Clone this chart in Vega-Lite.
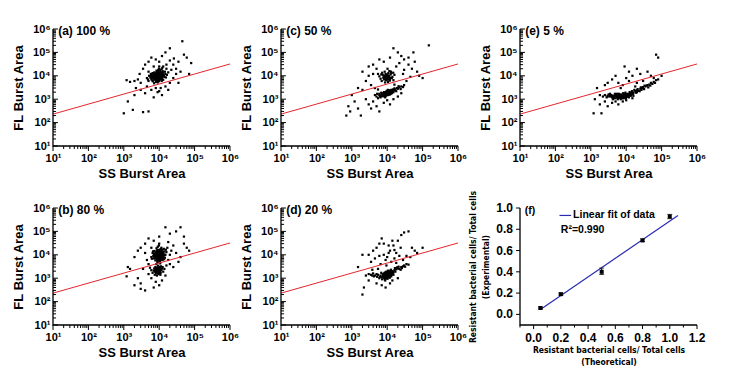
{
"$schema":"https://vega.github.io/schema/vega-lite/v6.json",
"background":"white",
"padding":{"left":11,"top":22,"right":5,"bottom":5},
"datasets":{
"sdom":[{"x":1000000,"y":10,"k":1},{"x":10,"y":10,"k":2},{"x":10,"y":1000000,"k":3}],
"fdom":[{"x":1.2,"y":-0.1,"k":1},{"x":-0.1,"y":-0.1,"k":2},{"x":-0.1,"y":1.0,"k":3}],
"lmaj":[{"v":10},{"v":100},{"v":1000},{"v":10000},{"v":100000},{"v":1000000}],
"lmin":[{"v":20},{"v":30},{"v":40},{"v":50},{"v":60},{"v":70},{"v":80},{"v":90},{"v":200},{"v":300},{"v":400},{"v":500},{"v":600},{"v":700},{"v":800},{"v":900},{"v":2000},{"v":3000},{"v":4000},{"v":5000},{"v":6000},{"v":7000},{"v":8000},{"v":9000},{"v":20000},{"v":30000},{"v":40000},{"v":50000},{"v":60000},{"v":70000},{"v":80000},{"v":90000},{"v":200000},{"v":300000},{"v":400000},{"v":500000},{"v":600000},{"v":700000},{"v":800000},{"v":900000}],
"fxmaj":[{"v":0},{"v":0.2},{"v":0.4},{"v":0.6},{"v":0.8},{"v":1.0},{"v":1.2}],
"fxmin":[{"v":-0.1},{"v":0.1},{"v":0.3},{"v":0.5},{"v":0.7},{"v":0.9},{"v":1.1}],
"fymaj":[{"v":0},{"v":0.2},{"v":0.4},{"v":0.6},{"v":0.8},{"v":1.0}],
"a":[{"x":9000,"y":9000},{"x":7500,"y":8000},{"x":11000,"y":10000},{"x":8500,"y":12000},{"x":6000,"y":7000},{"x":13000,"y":14000},{"x":10000,"y":6500},{"x":7000,"y":11000},{"x":9500,"y":15000},{"x":12000,"y":8000},{"x":5500,"y":9500},{"x":8000,"y":5500},{"x":15000,"y":12000},{"x":6500,"y":13000},{"x":10500,"y":18000},{"x":9200,"y":7200},{"x":7800,"y":9800},{"x":11500,"y":11500},{"x":8200,"y":6200},{"x":14000,"y":9000},{"x":5000,"y":6000},{"x":9800,"y":20000},{"x":6800,"y":8600},{"x":12500,"y":16000},{"x":7200,"y":4800},{"x":10200,"y":12500},{"x":8800,"y":10500},{"x":16000,"y":20000},{"x":4500,"y":8000},{"x":11800,"y":6000},{"x":9300,"y":8300},{"x":6200,"y":10500},{"x":13500,"y":11000},{"x":8600,"y":14500},{"x":7400,"y":6800},{"x":10800,"y":9300},{"x":5800,"y":12000},{"x":12200,"y":22000},{"x":9100,"y":5200},{"x":15500,"y":8500},{"x":6600,"y":5800},{"x":8400,"y":16500},{"x":11200,"y":13500},{"x":7600,"y":10000},{"x":10000,"y":25000},{"x":9600,"y":11200},{"x":5200,"y":10000},{"x":13000,"y":6800},{"x":8000,"y":8000},{"x":7000,"y":9000},{"x":12000,"y":12000},{"x":9000,"y":13000},{"x":6000,"y":11000},{"x":11000,"y":7500},{"x":8500,"y":9500},{"x":14500,"y":15000},{"x":7300,"y":14000},{"x":10300,"y":7800},{"x":9700,"y":9700},{"x":4800,"y":7000},{"x":16500,"y":11000},{"x":6300,"y":9000},{"x":11700,"y":19000},{"x":8900,"y":6800},{"x":7700,"y":12500},{"x":10600,"y":10600},{"x":12800,"y":9600},{"x":5700,"y":8200},{"x":9400,"y":17500},{"x":8100,"y":11500},{"x":18000,"y":14000},{"x":6900,"y":7600},{"x":10900,"y":14800},{"x":8300,"y":8900},{"x":9900,"y":5900},{"x":7100,"y":10300},{"x":12400,"y":10200},{"x":9000,"y":11000},{"x":6400,"y":6400},{"x":11300,"y":8600},
{"x":8700,"y":8700},{"x":9300,"y":9600},{"x":10000,"y":8500},{"x":8000,"y":9200},{"x":9600,"y":7800},{"x":10800,"y":10200},{"x":7600,"y":7400},{"x":8400,"y":10400},{"x":11200,"y":9000},{"x":9000,"y":11500},{"x":7200,"y":8400},{"x":9800,"y":12800},{"x":12000,"y":10500},{"x":8800,"y":6600},{"x":10400,"y":7000},{"x":7900,"y":11800},{"x":11600,"y":12200},{"x":6800,"y":9800},{"x":9500,"y":10800},{"x":8200,"y":7700},{"x":10600,"y":13800},{"x":13000,"y":10000},{"x":7400,"y":12600},{"x":9100,"y":6000},{"x":11800,"y":7200},{"x":6500,"y":8200},{"x":10200,"y":11000},{"x":8600,"y":13200},{"x":9400,"y":8000},{"x":12500,"y":13500},
{"x":3000,"y":5000},{"x":2500,"y":7000},{"x":2000,"y":6000},{"x":1500,"y":5500},{"x":1200,"y":6500},{"x":3500,"y":20000},{"x":4000,"y":30000},{"x":5000,"y":40000},{"x":6000,"y":60000},{"x":8000,"y":50000},{"x":12000,"y":70000},{"x":15000,"y":100000},{"x":20000,"y":45000},{"x":25000,"y":30000},{"x":30000,"y":20000},{"x":40000,"y":15000},{"x":50000,"y":80000},{"x":60000,"y":60000},{"x":45000,"y":300000},{"x":20000,"y":150000},{"x":10000,"y":40000},{"x":7000,"y":25000},{"x":3000,"y":2500},{"x":4000,"y":1800},{"x":6000,"y":2500},{"x":8000,"y":3000},{"x":10000,"y":2200},{"x":15000,"y":3500},{"x":20000,"y":5000},{"x":25000,"y":8000},{"x":30000,"y":12000},{"x":35000,"y":5000},{"x":18000,"y":2500},{"x":5000,"y":15000},{"x":2800,"y":12000},{"x":2200,"y":3000},{"x":1000,"y":250},{"x":1800,"y":350},{"x":3500,"y":280},{"x":5000,"y":300},{"x":7000,"y":1200},{"x":12000,"y":1500},{"x":9000,"y":2000},{"x":1300,"y":800},{"x":2000,"y":1500},{"x":70000,"y":12000},{"x":80000,"y":35000},{"x":16000,"y":30000},{"x":22000,"y":18000},{"x":4500,"y":3500},{"x":26000,"y":55000},{"x":35000,"y":40000},{"x":13000,"y":25000},{"x":11000,"y":3000}],
"c":[{"x":5000,"y":1300},{"x":6000,"y":1500},{"x":7000,"y":1400},{"x":8000,"y":1700},{"x":9000,"y":1800},{"x":10000,"y":1600},{"x":11000,"y":2000},{"x":12000,"y":1900},{"x":13000,"y":2200},{"x":15000,"y":2300},{"x":17000,"y":2600},{"x":20000,"y":2800},{"x":25000,"y":3500},{"x":30000,"y":4000},{"x":6500,"y":1200},{"x":7500,"y":1800},{"x":8500,"y":1300},{"x":9500,"y":2100},{"x":10500,"y":1500},{"x":11500,"y":2400},{"x":12500,"y":1700},{"x":14000,"y":2000},{"x":16000,"y":2900},{"x":18000,"y":2200},{"x":22000,"y":3200},{"x":4500,"y":1500},{"x":5500,"y":1100},{"x":7200,"y":1600},{"x":8200,"y":2000},{"x":9200,"y":1500},{"x":10200,"y":1900},{"x":11200,"y":1700},{"x":12200,"y":2300},{"x":13500,"y":1800},{"x":8800,"y":1200},{"x":9800,"y":2300},{"x":6800,"y":1900},{"x":7800,"y":1350},{"x":10800,"y":2100},{"x":14500,"y":2600},{"x":19000,"y":3000},{"x":24000,"y":2700},{"x":5200,"y":1700},{"x":6200,"y":1300},{"x":9000,"y":1400},{"x":10000,"y":2000},{"x":11000,"y":1800},{"x":12000,"y":1600},{"x":8000,"y":1500},{"x":7000,"y":1700},{"x":13000,"y":2500},{"x":15000,"y":2000},{"x":9500,"y":1700},{"x":10500,"y":2500},{"x":8500,"y":1900},{"x":11500,"y":2100},{"x":6000,"y":1700},{"x":16500,"y":2400},{"x":28000,"y":3300},{"x":21000,"y":3600},
{"x":9000,"y":1700},{"x":10000,"y":1800},{"x":11000,"y":1900},{"x":8000,"y":1600},{"x":9500,"y":1600},{"x":10500,"y":1800},{"x":12000,"y":2100},{"x":8500,"y":1500},{"x":7500,"y":1500},{"x":9200,"y":2000},{"x":10800,"y":1700},{"x":11800,"y":2200},{"x":13000,"y":2000},{"x":8800,"y":1400},{"x":9800,"y":1500},{"x":7000,"y":1350},{"x":12500,"y":1900},{"x":14000,"y":2300},{"x":10300,"y":2200},{"x":11300,"y":1600},{"x":6500,"y":1400},{"x":15000,"y":2500},{"x":9600,"y":1900},{"x":8300,"y":1800},{"x":10600,"y":1550},
{"x":10000,"y":8000},{"x":8000,"y":9000},{"x":12000,"y":7000},{"x":9000,"y":12000},{"x":7000,"y":6000},{"x":11000,"y":10000},{"x":13000,"y":13000},{"x":6000,"y":9500},{"x":9500,"y":6500},{"x":14000,"y":9000},{"x":8500,"y":15000},{"x":10500,"y":5500},{"x":7500,"y":11000},{"x":12500,"y":11500},{"x":9200,"y":8500},{"x":11500,"y":16000},{"x":6500,"y":7500},{"x":15000,"y":6500},{"x":8200,"y":7000},{"x":10800,"y":13000},{"x":5500,"y":12000},{"x":13500,"y":8000},{"x":9800,"y":10000},{"x":7200,"y":13500},{"x":16000,"y":11000},{"x":11800,"y":6200},{"x":8700,"y":5200},{"x":10200,"y":20000},{"x":12800,"y":15000},{"x":9000,"y":7500},{"x":7800,"y":8200},{"x":6800,"y":11500},{"x":14800,"y":13500},{"x":11000,"y":8800},{"x":9400,"y":9800},{"x":10000,"y":9000},{"x":9000,"y":8000},{"x":11000,"y":8500},{"x":9500,"y":10500},{"x":10500,"y":7000},{"x":8500,"y":10000},{"x":11500,"y":9500},{"x":10200,"y":11500},{"x":9200,"y":6800},{"x":12000,"y":8000},
{"x":700,"y":200},{"x":800,"y":500},{"x":1000,"y":1500},{"x":1200,"y":800},{"x":1500,"y":3000},{"x":2000,"y":2500},{"x":2500,"y":1000},{"x":3000,"y":600},{"x":1800,"y":200},{"x":3500,"y":400},{"x":4000,"y":800},{"x":5000,"y":500},{"x":6000,"y":300},{"x":8000,"y":700},{"x":10000,"y":900},{"x":12000,"y":600},{"x":15000,"y":1000},{"x":20000,"y":1300},{"x":25000,"y":1800},{"x":3000,"y":25000},{"x":4000,"y":30000},{"x":5000,"y":20000},{"x":6000,"y":50000},{"x":8000,"y":40000},{"x":12000,"y":60000},{"x":15000,"y":150000},{"x":20000,"y":100000},{"x":25000,"y":70000},{"x":30000,"y":50000},{"x":40000,"y":30000},{"x":50000,"y":20000},{"x":60000,"y":40000},{"x":70000,"y":15000},{"x":80000,"y":10000},{"x":100000,"y":8000},{"x":45000,"y":9000},{"x":35000,"y":6000},{"x":150000,"y":200000},{"x":2000,"y":15000},{"x":2500,"y":6000},{"x":3500,"y":4000},{"x":4500,"y":3000},{"x":4000,"y":12000},{"x":3000,"y":10000},{"x":18000,"y":25000},{"x":22000,"y":35000},{"x":30000,"y":18000},{"x":40000,"y":60000},{"x":55000,"y":100000},{"x":28000,"y":12000},{"x":1500,"y":400},{"x":900,"y":300},{"x":16000,"y":4200},{"x":5500,"y":2600}],
"e":[{"x":2500,"y":1500},{"x":3000,"y":1400},{"x":3500,"y":1300},{"x":4000,"y":1200},{"x":4500,"y":1400},{"x":5000,"y":1100},{"x":5500,"y":1300},{"x":6000,"y":1500},{"x":6500,"y":1200},{"x":7000,"y":1000},{"x":7500,"y":1400},{"x":8000,"y":1300},{"x":8500,"y":1600},{"x":9000,"y":1200},{"x":9500,"y":1500},{"x":10000,"y":1400},{"x":11000,"y":1700},{"x":12000,"y":1500},{"x":13000,"y":1800},{"x":14000,"y":1600},{"x":15000,"y":2000},{"x":16000,"y":1900},{"x":18000,"y":2200},{"x":20000,"y":2400},{"x":22000,"y":2300},{"x":25000,"y":2800},{"x":28000,"y":3000},{"x":30000,"y":3300},{"x":35000,"y":3500},{"x":40000,"y":4000},{"x":45000,"y":4200},{"x":50000,"y":5000},{"x":60000,"y":5500},{"x":70000,"y":6500},{"x":80000,"y":7000},{"x":2800,"y":1200},{"x":3200,"y":1600},{"x":3800,"y":1500},{"x":4200,"y":1000},{"x":4800,"y":1700},{"x":5200,"y":1500},{"x":5800,"y":1000},{"x":6200,"y":1700},{"x":6800,"y":1400},{"x":7200,"y":1600},{"x":7800,"y":1100},{"x":8200,"y":1800},{"x":8800,"y":1400},{"x":9200,"y":1700},{"x":9800,"y":1100},{"x":10500,"y":1600},{"x":11500,"y":1300},{"x":12500,"y":2000},{"x":13500,"y":1400},{"x":14500,"y":2200},{"x":15500,"y":1700},{"x":17000,"y":2500},{"x":19000,"y":1900},{"x":21000,"y":2700},{"x":24000,"y":2200},{"x":26000,"y":3200},{"x":32000,"y":2700},{"x":38000,"y":3800},{"x":42000,"y":3200},{"x":55000,"y":4500},{"x":65000,"y":5000},{"x":3500,"y":1700},{"x":4500,"y":1100},{"x":5500,"y":1700},{"x":6500,"y":1500},{"x":7500,"y":1200},{"x":8500,"y":1100},{"x":9500,"y":1900},{"x":10000,"y":1200},{"x":11000,"y":1400},{"x":12000,"y":1200},{"x":13000,"y":1600},{"x":16000,"y":1400},{"x":20000,"y":2000},{"x":27000,"y":2500},{"x":33000,"y":3800},{"x":48000,"y":3800},{"x":2200,"y":1300},{"x":1800,"y":1500},
{"x":6000,"y":1300},{"x":7000,"y":1200},{"x":8000,"y":1400},{"x":9000,"y":1300},{"x":10000,"y":1500},{"x":6500,"y":1400},{"x":7500,"y":1300},{"x":8500,"y":1250},{"x":9500,"y":1350},{"x":11000,"y":1550},{"x":12000,"y":1600},{"x":5000,"y":1300},{"x":5500,"y":1200},{"x":4500,"y":1250},{"x":4000,"y":1400},{"x":13000,"y":1700},{"x":14000,"y":1900},{"x":3500,"y":1500},{"x":3000,"y":1300},{"x":15000,"y":1800},{"x":7200,"y":1450},{"x":8200,"y":1150},{"x":10500,"y":1300},{"x":6200,"y":1150},{"x":9200,"y":1500},
{"x":1200,"y":250},{"x":1500,"y":3000},{"x":1300,"y":1000},{"x":1800,"y":600},{"x":2000,"y":250},{"x":2500,"y":800},{"x":3000,"y":500},{"x":4000,"y":700},{"x":5000,"y":800},{"x":6000,"y":600},{"x":8000,"y":800},{"x":10000,"y":900},{"x":15000,"y":1100},{"x":3000,"y":5000},{"x":4000,"y":7000},{"x":5000,"y":10000},{"x":6000,"y":5000},{"x":8000,"y":4000},{"x":10000,"y":8000},{"x":12000,"y":15000},{"x":15000,"y":10000},{"x":20000,"y":20000},{"x":25000,"y":12000},{"x":30000,"y":6000},{"x":20000,"y":5000},{"x":40000,"y":15000},{"x":50000,"y":10000},{"x":60000,"y":8000},{"x":80000,"y":60000},{"x":70000,"y":80000},{"x":9000,"y":25000},{"x":12000,"y":6000},{"x":100000,"y":10000},{"x":2500,"y":4000},{"x":7000,"y":3000},{"x":18000,"y":3500}],
"b":[{"x":10000,"y":9000},{"x":8500,"y":7500},{"x":12000,"y":11000},{"x":9000,"y":13000},{"x":11000,"y":7000},{"x":7500,"y":10000},{"x":13000,"y":8500},{"x":9500,"y":16000},{"x":10500,"y":5500},{"x":8000,"y":12500},{"x":14000,"y":14000},{"x":7000,"y":7000},{"x":11500,"y":20000},{"x":9200,"y":6500},{"x":12500,"y":6000},{"x":8800,"y":9800},{"x":10800,"y":11800},{"x":6500,"y":12000},{"x":15000,"y":10000},{"x":9800,"y":25000},{"x":7800,"y":5800},{"x":11200,"y":15000},{"x":8200,"y":8200},{"x":13500,"y":18000},{"x":10200,"y":7800},{"x":9000,"y":4800},{"x":12000,"y":9000},{"x":6800,"y":9000},{"x":16000,"y":13000},{"x":10600,"y":12600},{"x":8600,"y":6800},{"x":9400,"y":10400},{"x":11800,"y":8000},{"x":7300,"y":14500},{"x":12800,"y":13200},{"x":10000,"y":30000},{"x":8400,"y":19000},{"x":14500,"y":7500},{"x":9700,"y":8700},{"x":6200,"y":6800},{"x":11000,"y":10500},{"x":9300,"y":11500},{"x":10400,"y":9300},{"x":7700,"y":8600},{"x":12200,"y":16500},{"x":8900,"y":5200},{"x":13200,"y":11200},{"x":10900,"y":6300},{"x":9100,"y":22000},{"x":11600,"y":12500},{"x":8100,"y":10700},{"x":7100,"y":11300},{"x":15500,"y":16500},{"x":10100,"y":14200},{"x":8700,"y":15500},{"x":12700,"y":7300},{"x":9600,"y":7200},{"x":11300,"y":9600},{"x":6700,"y":14000},{"x":14200,"y":9800},{"x":17000,"y":20000},{"x":10700,"y":4300},{"x":8300,"y":4000},{"x":9900,"y":10000},{"x":12300,"y":12300},{"x":7400,"y":7800},{"x":13800,"y":6500},{"x":9500,"y":9000},{"x":11100,"y":17500},{"x":8000,"y":9500},
{"x":9700,"y":9400},{"x":10300,"y":8200},{"x":9000,"y":10500},{"x":11000,"y":9800},{"x":8500,"y":8800},{"x":10800,"y":12000},{"x":9300,"y":7400},{"x":11800,"y":10800},{"x":8000,"y":11200},{"x":12400,"y":8600},{"x":9600,"y":13000},{"x":10600,"y":6800},{"x":7600,"y":9600},{"x":11400,"y":14000},{"x":8800,"y":6200},{"x":10000,"y":11000},{"x":12800,"y":11500},{"x":9100,"y":15000},{"x":7800,"y":7200},{"x":10900,"y":8900},{"x":8400,"y":13800},{"x":11700,"y":7600},{"x":9900,"y":5800},{"x":10400,"y":16500},{"x":7200,"y":10400},{"x":13500,"y":9500},{"x":8900,"y":9000},{"x":10100,"y":10000},{"x":9400,"y":12000},{"x":11100,"y":6000},
{"x":9000,"y":2000},{"x":8000,"y":1800},{"x":10000,"y":2200},{"x":7000,"y":2100},{"x":11000,"y":1700},{"x":8500,"y":2500},{"x":9500,"y":1500},{"x":12000,"y":2600},{"x":6500,"y":1700},{"x":10500,"y":2800},{"x":7500,"y":1400},{"x":8800,"y":2300},{"x":9800,"y":1900},{"x":11500,"y":2200},{"x":7200,"y":2600},{"x":13000,"y":1900},{"x":8200,"y":1600},{"x":10200,"y":1600},{"x":9200,"y":2700},{"x":6000,"y":2200},{"x":12500,"y":3000},{"x":8600,"y":1300},{"x":11200,"y":3200},{"x":7800,"y":3000},{"x":9600,"y":2400},{"x":10800,"y":1400},{"x":14000,"y":2500},{"x":8300,"y":2100},{"x":9300,"y":3400},{"x":7600,"y":1900},{"x":9000,"y":2200},{"x":8400,"y":1900},{"x":9800,"y":2500},{"x":10600,"y":2000},{"x":7800,"y":2300},{"x":9400,"y":1700},{"x":11000,"y":2400},{"x":8700,"y":2800},{"x":10200,"y":3000},{"x":8000,"y":2600},
{"x":1200,"y":1200},{"x":1500,"y":2500},{"x":2000,"y":500},{"x":2500,"y":1000},{"x":3000,"y":600},{"x":1300,"y":3000},{"x":2000,"y":8000},{"x":2500,"y":15000},{"x":3000,"y":20000},{"x":4000,"y":30000},{"x":5000,"y":50000},{"x":6000,"y":8000},{"x":7000,"y":40000},{"x":10000,"y":60000},{"x":15000,"y":150000},{"x":20000,"y":80000},{"x":30000,"y":100000},{"x":40000,"y":150000},{"x":50000,"y":30000},{"x":60000,"y":20000},{"x":25000,"y":25000},{"x":30000,"y":12000},{"x":40000,"y":8000},{"x":35000,"y":5000},{"x":20000,"y":4000},{"x":18000,"y":6000},{"x":25000,"y":3000},{"x":5000,"y":4000},{"x":4000,"y":12000},{"x":3500,"y":2500},{"x":5000,"y":1500},{"x":6000,"y":1000},{"x":8000,"y":700},{"x":10000,"y":500},{"x":7000,"y":400},{"x":12000,"y":800},{"x":15000,"y":1300},{"x":4000,"y":300},{"x":3000,"y":350},{"x":20000,"y":10000},{"x":18000,"y":35000},{"x":50000,"y":60000},{"x":70000,"y":15000},{"x":4500,"y":6000},{"x":6000,"y":20000},{"x":16000,"y":3500},{"x":22000,"y":15000},{"x":5500,"y":2800}],
"d":[{"x":8000,"y":1200},{"x":9000,"y":1400},{"x":10000,"y":1000},{"x":11000,"y":1500},{"x":12000,"y":1300},{"x":13000,"y":1700},{"x":7000,"y":1100},{"x":7500,"y":1500},{"x":8500,"y":900},{"x":9500,"y":1700},{"x":10500,"y":1300},{"x":11500,"y":1900},{"x":12500,"y":1600},{"x":14000,"y":2000},{"x":15000,"y":1800},{"x":16000,"y":2200},{"x":18000,"y":2400},{"x":20000,"y":2600},{"x":22000,"y":2500},{"x":25000,"y":3000},{"x":28000,"y":3200},{"x":30000,"y":3500},{"x":35000,"y":4000},{"x":40000,"y":3800},{"x":6500,"y":1300},{"x":6000,"y":1000},{"x":5500,"y":1400},{"x":5000,"y":1500},{"x":4500,"y":1300},{"x":4000,"y":1600},{"x":3500,"y":1400},{"x":3000,"y":1500},{"x":2500,"y":1300},{"x":8200,"y":1600},{"x":9200,"y":1100},{"x":10200,"y":1800},{"x":11200,"y":1200},{"x":12200,"y":2100},{"x":13200,"y":1400},{"x":14500,"y":1600},{"x":8800,"y":800},{"x":9800,"y":1250},{"x":10800,"y":1650},{"x":11800,"y":1050},{"x":7800,"y":1350},{"x":6800,"y":1700},{"x":9400,"y":1900},{"x":12800,"y":2300},{"x":17000,"y":1900},{"x":19000,"y":2900},{"x":24000,"y":2300},{"x":7200,"y":900},{"x":10000,"y":1500},{"x":11000,"y":1100},{"x":9000,"y":1000},{"x":8000,"y":1500},{"x":12000,"y":1800},{"x":13000,"y":1200},{"x":15000,"y":1400},{"x":10500,"y":2100},{"x":8600,"y":1750},{"x":6200,"y":1150},{"x":16500,"y":2700},{"x":21000,"y":3100},{"x":26000,"y":2700},{"x":32000,"y":3100},{"x":4200,"y":1200},{"x":5200,"y":1150},{"x":3800,"y":1300},{"x":9600,"y":1350},
{"x":9000,"y":1200},{"x":10000,"y":1300},{"x":11000,"y":1400},{"x":9500,"y":1050},{"x":10500,"y":1150},{"x":8500,"y":1100},{"x":12000,"y":1500},{"x":9800,"y":1600},{"x":8200,"y":1300},{"x":11500,"y":1250},{"x":10200,"y":950},{"x":12500,"y":1800},{"x":13500,"y":1600},{"x":9200,"y":1500},{"x":10800,"y":1700},{"x":8800,"y":1000},{"x":11800,"y":1600},{"x":7600,"y":1200},{"x":9600,"y":1400},{"x":14000,"y":1800},{"x":10400,"y":1400},{"x":8000,"y":1050},{"x":12800,"y":1400},{"x":9400,"y":1250},{"x":11200,"y":1350},
{"x":3000,"y":10000},{"x":4000,"y":15000},{"x":5000,"y":20000},{"x":6000,"y":30000},{"x":8000,"y":10000},{"x":10000,"y":8000},{"x":12000,"y":15000},{"x":15000,"y":25000},{"x":20000,"y":40000},{"x":25000,"y":70000},{"x":30000,"y":90000},{"x":40000,"y":100000},{"x":50000,"y":20000},{"x":60000,"y":15000},{"x":7000,"y":50000},{"x":9000,"y":6000},{"x":11000,"y":12000},{"x":13000,"y":5000},{"x":16000,"y":7000},{"x":18000,"y":12000},{"x":22000,"y":9000},{"x":28000,"y":6000},{"x":35000,"y":9000},{"x":45000,"y":8000},{"x":70000,"y":12000},{"x":100000,"y":20000},{"x":4500,"y":7000},{"x":6500,"y":4000},{"x":3500,"y":5000},{"x":2000,"y":10000},{"x":1500,"y":3000},{"x":2000,"y":200},{"x":2200,"y":400},{"x":3000,"y":800},{"x":5000,"y":600},{"x":7000,"y":500},{"x":9000,"y":400},{"x":12000,"y":600},{"x":14000,"y":800},{"x":20000,"y":1000},{"x":8000,"y":30000},{"x":11000,"y":25000},{"x":14000,"y":40000},{"x":6000,"y":9000},{"x":16000,"y":16000},{"x":24000,"y":20000},{"x":9500,"y":3500},{"x":5500,"y":2500},{"x":3800,"y":2300},{"x":18000,"y":4500}],
"fit":[{"x":10,"y":230},{"x":1000000,"y":32000}],
"f":[{"x":0.05,"y":0.06,"lo":0.05,"hi":0.07},{"x":0.2,"y":0.19,"lo":0.18,"hi":0.2},{"x":0.5,"y":0.4,"lo":0.375,"hi":0.435},{"x":0.8,"y":0.695,"lo":0.685,"hi":0.71},{"x":1.0,"y":0.92,"lo":0.9,"hi":0.94}],
"fitf":[{"x":0.05,"y":0.045},{"x":1.06,"y":0.93}]
},
"columns":3,
"spacing":{"column":-1,"row":8},
"concat":[
{"width":177,"height":117,"layer":[
 {"data":{"name":"a"},"mark":{"type":"square","size":5,"color":"#000","opacity":1},
  "encoding":{"x":{"field":"x","type":"quantitative","scale":{"type":"log","domain":[10,1000000]},"axis":{"title":"SS Burst Area","values":[10,100,1000,10000,100000,1000000],"labelExpr":"'10'+['⁰','¹','²','³','⁴','⁵','⁶'][round(log(datum.value)/LN10)]","ticks":false,"domain":false,"labelPadding":6,"titlePadding":4,"grid":false,"labelOverlap":false,"labelFlush":false,"labelFont":"Liberation Sans","labelFontWeight":"bold","labelFontSize":11,"labelColor":"#000","titleFont":"Liberation Sans","titleFontWeight":"bold","titleFontSize":13,"titleColor":"#000"}},
   "y":{"field":"y","type":"quantitative","scale":{"type":"log","domain":[10,1000000]},"axis":{"title":"FL Burst Area","values":[10,100,1000,10000,100000,1000000],"labelExpr":"'10'+['⁰','¹','²','³','⁴','⁵','⁶'][round(log(datum.value)/LN10)]","ticks":false,"domain":false,"labelPadding":3,"titlePadding":7,"grid":false,"labelOverlap":false,"labelFont":"Liberation Sans","labelFontWeight":"bold","labelFontSize":11,"labelColor":"#000","titleFont":"Liberation Sans","titleFontWeight":"bold","titleFontSize":13,"titleColor":"#000"}}}},
 {"data":{"name":"fit"},"mark":{"type":"line","color":"#e3262d","strokeWidth":1},"encoding":{"x":{"field":"x","type":"quantitative"},"y":{"field":"y","type":"quantitative"}}},
 {"data":{"values":[{"x":14,"y":830000,"t":"(a) 100 %"}]},"mark":{"type":"text","align":"left","baseline":"middle","font":"Liberation Sans","fontWeight":"bold","fontSize":12},"encoding":{"x":{"field":"x","type":"quantitative"},"y":{"field":"y","type":"quantitative"},"text":{"field":"t"}}},
 {"data":{"name":"sdom"},"mark":{"type":"line","color":"#000","strokeWidth":1.3},"encoding":{"x":{"field":"x","type":"quantitative"},"y":{"field":"y","type":"quantitative"},"order":{"field":"k"}}},
 {"data":{"name":"lmaj"},"mark":{"type":"rule","color":"#000","strokeWidth":1},"encoding":{"x":{"field":"v","type":"quantitative"},"y":{"datum":10,"type":"quantitative"},"y2":{"datum":6.1}}},
 {"data":{"name":"lmin"},"mark":{"type":"rule","color":"#000","strokeWidth":1},"encoding":{"x":{"field":"v","type":"quantitative"},"y":{"datum":10,"type":"quantitative"},"y2":{"datum":7.45}}},
 {"data":{"name":"lmaj"},"mark":{"type":"rule","color":"#000","strokeWidth":1},"encoding":{"y":{"field":"v","type":"quantitative"},"x":{"datum":10,"type":"quantitative"},"x2":{"datum":13.8}}},
 {"data":{"name":"lmin"},"mark":{"type":"rule","color":"#000","strokeWidth":1},"encoding":{"y":{"field":"v","type":"quantitative"},"x":{"datum":10,"type":"quantitative"},"x2":{"datum":12.2}}}
]},
{"width":177,"height":117,"layer":[
 {"data":{"name":"c"},"mark":{"type":"square","size":5,"color":"#000","opacity":1},
  "encoding":{"x":{"field":"x","type":"quantitative","scale":{"type":"log","domain":[10,1000000]},"axis":{"title":"SS Burst Area","values":[10,100,1000,10000,100000,1000000],"labelExpr":"'10'+['⁰','¹','²','³','⁴','⁵','⁶'][round(log(datum.value)/LN10)]","ticks":false,"domain":false,"labelPadding":6,"titlePadding":4,"grid":false,"labelOverlap":false,"labelFlush":false,"labelFont":"Liberation Sans","labelFontWeight":"bold","labelFontSize":11,"labelColor":"#000","titleFont":"Liberation Sans","titleFontWeight":"bold","titleFontSize":13,"titleColor":"#000"}},
   "y":{"field":"y","type":"quantitative","scale":{"type":"log","domain":[10,1000000]},"axis":{"title":"FL Burst Area","values":[10,100,1000,10000,100000,1000000],"labelExpr":"'10'+['⁰','¹','²','³','⁴','⁵','⁶'][round(log(datum.value)/LN10)]","ticks":false,"domain":false,"labelPadding":3,"titlePadding":7,"grid":false,"labelOverlap":false,"labelFont":"Liberation Sans","labelFontWeight":"bold","labelFontSize":11,"labelColor":"#000","titleFont":"Liberation Sans","titleFontWeight":"bold","titleFontSize":13,"titleColor":"#000"}}}},
 {"data":{"name":"fit"},"mark":{"type":"line","color":"#e3262d","strokeWidth":1},"encoding":{"x":{"field":"x","type":"quantitative"},"y":{"field":"y","type":"quantitative"}}},
 {"data":{"values":[{"x":14,"y":830000,"t":"(c) 50 %"}]},"mark":{"type":"text","align":"left","baseline":"middle","font":"Liberation Sans","fontWeight":"bold","fontSize":12},"encoding":{"x":{"field":"x","type":"quantitative"},"y":{"field":"y","type":"quantitative"},"text":{"field":"t"}}},
 {"data":{"name":"sdom"},"mark":{"type":"line","color":"#000","strokeWidth":1.3},"encoding":{"x":{"field":"x","type":"quantitative"},"y":{"field":"y","type":"quantitative"},"order":{"field":"k"}}},
 {"data":{"name":"lmaj"},"mark":{"type":"rule","color":"#000","strokeWidth":1},"encoding":{"x":{"field":"v","type":"quantitative"},"y":{"datum":10,"type":"quantitative"},"y2":{"datum":6.1}}},
 {"data":{"name":"lmin"},"mark":{"type":"rule","color":"#000","strokeWidth":1},"encoding":{"x":{"field":"v","type":"quantitative"},"y":{"datum":10,"type":"quantitative"},"y2":{"datum":7.45}}},
 {"data":{"name":"lmaj"},"mark":{"type":"rule","color":"#000","strokeWidth":1},"encoding":{"y":{"field":"v","type":"quantitative"},"x":{"datum":10,"type":"quantitative"},"x2":{"datum":13.8}}},
 {"data":{"name":"lmin"},"mark":{"type":"rule","color":"#000","strokeWidth":1},"encoding":{"y":{"field":"v","type":"quantitative"},"x":{"datum":10,"type":"quantitative"},"x2":{"datum":12.2}}}
]},
{"width":177,"height":117,"layer":[
 {"data":{"name":"e"},"mark":{"type":"square","size":5,"color":"#000","opacity":1},
  "encoding":{"x":{"field":"x","type":"quantitative","scale":{"type":"log","domain":[10,1000000]},"axis":{"title":"SS Burst Area","values":[10,100,1000,10000,100000,1000000],"labelExpr":"'10'+['⁰','¹','²','³','⁴','⁵','⁶'][round(log(datum.value)/LN10)]","ticks":false,"domain":false,"labelPadding":6,"titlePadding":4,"grid":false,"labelOverlap":false,"labelFlush":false,"labelFont":"Liberation Sans","labelFontWeight":"bold","labelFontSize":11,"labelColor":"#000","titleFont":"Liberation Sans","titleFontWeight":"bold","titleFontSize":13,"titleColor":"#000"}},
   "y":{"field":"y","type":"quantitative","scale":{"type":"log","domain":[10,1000000]},"axis":{"title":"FL Burst Area","values":[10,100,1000,10000,100000,1000000],"labelExpr":"'10'+['⁰','¹','²','³','⁴','⁵','⁶'][round(log(datum.value)/LN10)]","ticks":false,"domain":false,"labelPadding":3,"titlePadding":7,"grid":false,"labelOverlap":false,"labelFont":"Liberation Sans","labelFontWeight":"bold","labelFontSize":11,"labelColor":"#000","titleFont":"Liberation Sans","titleFontWeight":"bold","titleFontSize":13,"titleColor":"#000"}}}},
 {"data":{"name":"fit"},"mark":{"type":"line","color":"#e3262d","strokeWidth":1},"encoding":{"x":{"field":"x","type":"quantitative"},"y":{"field":"y","type":"quantitative"}}},
 {"data":{"values":[{"x":14,"y":830000,"t":"(e) 5 %"}]},"mark":{"type":"text","align":"left","baseline":"middle","font":"Liberation Sans","fontWeight":"bold","fontSize":12},"encoding":{"x":{"field":"x","type":"quantitative"},"y":{"field":"y","type":"quantitative"},"text":{"field":"t"}}},
 {"data":{"name":"sdom"},"mark":{"type":"line","color":"#000","strokeWidth":1.3},"encoding":{"x":{"field":"x","type":"quantitative"},"y":{"field":"y","type":"quantitative"},"order":{"field":"k"}}},
 {"data":{"name":"lmaj"},"mark":{"type":"rule","color":"#000","strokeWidth":1},"encoding":{"x":{"field":"v","type":"quantitative"},"y":{"datum":10,"type":"quantitative"},"y2":{"datum":6.1}}},
 {"data":{"name":"lmin"},"mark":{"type":"rule","color":"#000","strokeWidth":1},"encoding":{"x":{"field":"v","type":"quantitative"},"y":{"datum":10,"type":"quantitative"},"y2":{"datum":7.45}}},
 {"data":{"name":"lmaj"},"mark":{"type":"rule","color":"#000","strokeWidth":1},"encoding":{"y":{"field":"v","type":"quantitative"},"x":{"datum":10,"type":"quantitative"},"x2":{"datum":13.8}}},
 {"data":{"name":"lmin"},"mark":{"type":"rule","color":"#000","strokeWidth":1},"encoding":{"y":{"field":"v","type":"quantitative"},"x":{"datum":10,"type":"quantitative"},"x2":{"datum":12.2}}}
]},
{"width":177,"height":117,"layer":[
 {"data":{"name":"b"},"mark":{"type":"square","size":5,"color":"#000","opacity":1},
  "encoding":{"x":{"field":"x","type":"quantitative","scale":{"type":"log","domain":[10,1000000]},"axis":{"title":"SS Burst Area","values":[10,100,1000,10000,100000,1000000],"labelExpr":"'10'+['⁰','¹','²','³','⁴','⁵','⁶'][round(log(datum.value)/LN10)]","ticks":false,"domain":false,"labelPadding":6,"titlePadding":4,"grid":false,"labelOverlap":false,"labelFlush":false,"labelFont":"Liberation Sans","labelFontWeight":"bold","labelFontSize":11,"labelColor":"#000","titleFont":"Liberation Sans","titleFontWeight":"bold","titleFontSize":13,"titleColor":"#000"}},
   "y":{"field":"y","type":"quantitative","scale":{"type":"log","domain":[10,1000000]},"axis":{"title":"FL Burst Area","values":[10,100,1000,10000,100000,1000000],"labelExpr":"'10'+['⁰','¹','²','³','⁴','⁵','⁶'][round(log(datum.value)/LN10)]","ticks":false,"domain":false,"labelPadding":3,"titlePadding":7,"grid":false,"labelOverlap":false,"labelFont":"Liberation Sans","labelFontWeight":"bold","labelFontSize":11,"labelColor":"#000","titleFont":"Liberation Sans","titleFontWeight":"bold","titleFontSize":13,"titleColor":"#000"}}}},
 {"data":{"name":"fit"},"mark":{"type":"line","color":"#e3262d","strokeWidth":1},"encoding":{"x":{"field":"x","type":"quantitative"},"y":{"field":"y","type":"quantitative"}}},
 {"data":{"values":[{"x":14,"y":830000,"t":"(b) 80 %"}]},"mark":{"type":"text","align":"left","baseline":"middle","font":"Liberation Sans","fontWeight":"bold","fontSize":12},"encoding":{"x":{"field":"x","type":"quantitative"},"y":{"field":"y","type":"quantitative"},"text":{"field":"t"}}},
 {"data":{"name":"sdom"},"mark":{"type":"line","color":"#000","strokeWidth":1.3},"encoding":{"x":{"field":"x","type":"quantitative"},"y":{"field":"y","type":"quantitative"},"order":{"field":"k"}}},
 {"data":{"name":"lmaj"},"mark":{"type":"rule","color":"#000","strokeWidth":1},"encoding":{"x":{"field":"v","type":"quantitative"},"y":{"datum":10,"type":"quantitative"},"y2":{"datum":6.1}}},
 {"data":{"name":"lmin"},"mark":{"type":"rule","color":"#000","strokeWidth":1},"encoding":{"x":{"field":"v","type":"quantitative"},"y":{"datum":10,"type":"quantitative"},"y2":{"datum":7.45}}},
 {"data":{"name":"lmaj"},"mark":{"type":"rule","color":"#000","strokeWidth":1},"encoding":{"y":{"field":"v","type":"quantitative"},"x":{"datum":10,"type":"quantitative"},"x2":{"datum":13.8}}},
 {"data":{"name":"lmin"},"mark":{"type":"rule","color":"#000","strokeWidth":1},"encoding":{"y":{"field":"v","type":"quantitative"},"x":{"datum":10,"type":"quantitative"},"x2":{"datum":12.2}}}
]},
{"width":177,"height":117,"layer":[
 {"data":{"name":"d"},"mark":{"type":"square","size":5,"color":"#000","opacity":1},
  "encoding":{"x":{"field":"x","type":"quantitative","scale":{"type":"log","domain":[10,1000000]},"axis":{"title":"SS Burst Area","values":[10,100,1000,10000,100000,1000000],"labelExpr":"'10'+['⁰','¹','²','³','⁴','⁵','⁶'][round(log(datum.value)/LN10)]","ticks":false,"domain":false,"labelPadding":6,"titlePadding":4,"grid":false,"labelOverlap":false,"labelFlush":false,"labelFont":"Liberation Sans","labelFontWeight":"bold","labelFontSize":11,"labelColor":"#000","titleFont":"Liberation Sans","titleFontWeight":"bold","titleFontSize":13,"titleColor":"#000"}},
   "y":{"field":"y","type":"quantitative","scale":{"type":"log","domain":[10,1000000]},"axis":{"title":"FL Burst Area","values":[10,100,1000,10000,100000,1000000],"labelExpr":"'10'+['⁰','¹','²','³','⁴','⁵','⁶'][round(log(datum.value)/LN10)]","ticks":false,"domain":false,"labelPadding":3,"titlePadding":7,"grid":false,"labelOverlap":false,"labelFont":"Liberation Sans","labelFontWeight":"bold","labelFontSize":11,"labelColor":"#000","titleFont":"Liberation Sans","titleFontWeight":"bold","titleFontSize":13,"titleColor":"#000"}}}},
 {"data":{"name":"fit"},"mark":{"type":"line","color":"#e3262d","strokeWidth":1},"encoding":{"x":{"field":"x","type":"quantitative"},"y":{"field":"y","type":"quantitative"}}},
 {"data":{"values":[{"x":14,"y":830000,"t":"(d) 20 %"}]},"mark":{"type":"text","align":"left","baseline":"middle","font":"Liberation Sans","fontWeight":"bold","fontSize":12},"encoding":{"x":{"field":"x","type":"quantitative"},"y":{"field":"y","type":"quantitative"},"text":{"field":"t"}}},
 {"data":{"name":"sdom"},"mark":{"type":"line","color":"#000","strokeWidth":1.3},"encoding":{"x":{"field":"x","type":"quantitative"},"y":{"field":"y","type":"quantitative"},"order":{"field":"k"}}},
 {"data":{"name":"lmaj"},"mark":{"type":"rule","color":"#000","strokeWidth":1},"encoding":{"x":{"field":"v","type":"quantitative"},"y":{"datum":10,"type":"quantitative"},"y2":{"datum":6.1}}},
 {"data":{"name":"lmin"},"mark":{"type":"rule","color":"#000","strokeWidth":1},"encoding":{"x":{"field":"v","type":"quantitative"},"y":{"datum":10,"type":"quantitative"},"y2":{"datum":7.45}}},
 {"data":{"name":"lmaj"},"mark":{"type":"rule","color":"#000","strokeWidth":1},"encoding":{"y":{"field":"v","type":"quantitative"},"x":{"datum":10,"type":"quantitative"},"x2":{"datum":13.8}}},
 {"data":{"name":"lmin"},"mark":{"type":"rule","color":"#000","strokeWidth":1},"encoding":{"y":{"field":"v","type":"quantitative"},"x":{"datum":10,"type":"quantitative"},"x2":{"datum":12.2}}}
]},
{"width":177,"height":117,"layer":[
 {"data":{"name":"fitf"},"mark":{"type":"line","color":"#2a2ab5","strokeWidth":1.2},
  "encoding":{"x":{"field":"x","type":"quantitative","scale":{"domain":[-0.1,1.2],"nice":false,"zero":false},"axis":{"title":["Resistant bacterial cells/ Total cells","(Theoretical)"],"labels":false,"ticks":false,"domain":false,"grid":false,"titlePadding":20,"titleFont":"DejaVu Sans Condensed, Liberation Sans","titleFontWeight":"bold","titleFontSize":8.5,"titleLineHeight":12,"titleColor":"#000"}},
   "y":{"field":"y","type":"quantitative","scale":{"domain":[-0.1,1.0],"nice":false,"zero":false},"axis":{"title":["Resistant bacterial cells/ Total cells","(Experimental)"],"labels":false,"ticks":false,"domain":false,"grid":false,"titlePadding":30,"titleFont":"DejaVu Sans Condensed, Liberation Sans","titleFontWeight":"bold","titleFontSize":8.5,"titleLineHeight":13,"titleColor":"#000"}}}},
 {"data":{"name":"fdom"},"mark":{"type":"line","color":"#000","strokeWidth":1.3},"encoding":{"x":{"field":"x","type":"quantitative"},"y":{"field":"y","type":"quantitative"},"order":{"field":"k"}}},
 {"data":{"name":"fxmaj"},"mark":{"type":"rule","color":"#000","strokeWidth":1},"encoding":{"x":{"field":"v","type":"quantitative"},"y":{"datum":-0.1,"type":"quantitative"},"y2":{"datum":-0.138}}},
 {"data":{"name":"fxmin"},"mark":{"type":"rule","color":"#000","strokeWidth":1},"encoding":{"x":{"field":"v","type":"quantitative"},"y":{"datum":-0.1,"type":"quantitative"},"y2":{"datum":-0.124}}},
 {"data":{"name":"fymaj"},"mark":{"type":"rule","color":"#000","strokeWidth":1},"encoding":{"y":{"field":"v","type":"quantitative"},"x":{"datum":-0.1,"type":"quantitative"},"x2":{"datum":-0.129}}},
 {"data":{"name":"fxmaj"},"mark":{"type":"text","baseline":"top","dy":8,"font":"Liberation Sans","fontWeight":"bold","fontSize":12,"color":"#000"},"encoding":{"x":{"field":"v","type":"quantitative"},"y":{"datum":-0.1,"type":"quantitative"},"text":{"field":"v","type":"quantitative","format":".1f"}}},
 {"data":{"name":"fymaj"},"mark":{"type":"text","align":"right","baseline":"middle","dx":-7,"font":"Liberation Sans","fontWeight":"bold","fontSize":12,"color":"#000"},"encoding":{"y":{"field":"v","type":"quantitative"},"x":{"datum":-0.1,"type":"quantitative"},"text":{"field":"v","type":"quantitative","format":".1f"}}},
 {"data":{"name":"f"},"mark":{"type":"rule","color":"#000","strokeWidth":1},"encoding":{"x":{"field":"x","type":"quantitative"},"y":{"field":"lo","type":"quantitative"},"y2":{"field":"hi"}}},
 {"data":{"name":"f"},"mark":{"type":"tick","orient":"horizontal","color":"#000","size":5,"thickness":1},"encoding":{"x":{"field":"x","type":"quantitative"},"y":{"field":"lo","type":"quantitative"}}},
 {"data":{"name":"f"},"mark":{"type":"tick","orient":"horizontal","color":"#000","size":5,"thickness":1},"encoding":{"x":{"field":"x","type":"quantitative"},"y":{"field":"hi","type":"quantitative"}}},
 {"data":{"name":"f"},"mark":{"type":"square","size":16,"color":"#000","opacity":1},"encoding":{"x":{"field":"x","type":"quantitative"},"y":{"field":"y","type":"quantitative"}}},
 {"data":{"values":[{"x":0.19,"x2":0.275,"y":0.93}]},"mark":{"type":"rule","color":"#2a2ab5","strokeWidth":1.2},"encoding":{"x":{"field":"x","type":"quantitative"},"x2":{"field":"x2"},"y":{"field":"y","type":"quantitative"}}},
 {"data":{"values":[{"x":0.29,"y":0.93,"t":"Linear fit of data"},{"x":0.2,"y":0.79,"t":"R²=0.990"},{"x":-0.065,"y":0.975,"t":"(f)"}]},"mark":{"type":"text","align":"left","baseline":"middle","font":"Liberation Sans","fontWeight":"bold","fontSize":10.5},"encoding":{"x":{"field":"x","type":"quantitative"},"y":{"field":"y","type":"quantitative"},"text":{"field":"t"}}}
]}
],
"config":{"view":{"stroke":"transparent"}}
}
